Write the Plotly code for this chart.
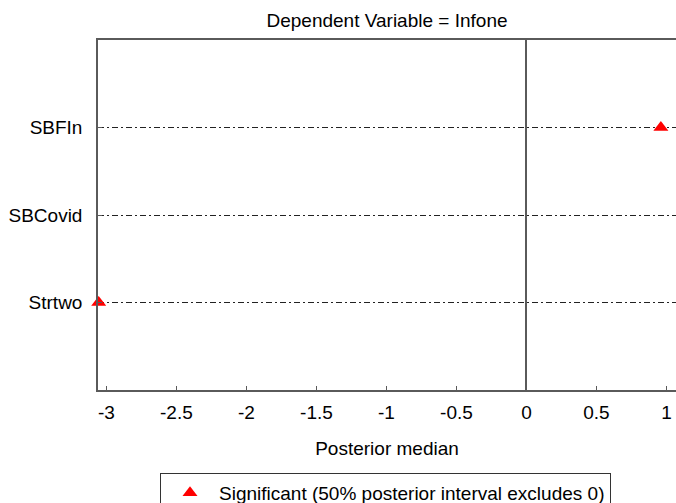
import plotly.graph_objects as go

# Predictors shown on the y axis (top to bottom)
variables = ["SBFIn", "SBCovid", "Strtwo"]

# Posterior medians of the predictors whose 50% interval excludes 0
sig_vars = ["SBFIn", "Strtwo"]
sig_medians = [0.96, -3.055]

x_ticks = [-3, -2.5, -2, -1.5, -1, -0.5, 0, 0.5, 1]
x_tick_text = ["-3", "-2.5", "-2", "-1.5", "-1", "-0.5", "0", "0.5", "1"]

FONT = "Liberation Sans, Arial, sans-serif"
AXIS_COL = "#5a5a5a"

fig = go.Figure()

fig.add_trace(go.Scatter(
    x=sig_medians,
    y=sig_vars,
    mode="markers",
    marker=dict(symbol="triangle-up", size=13, color="#ff0000", line=dict(width=0)),
    name="Significant (50% posterior interval excludes 0)",
    cliponaxis=False,
    showlegend=True,
))

fig.update_layout(
    width=676,
    height=503,
    margin=dict(l=98, r=0, t=40, b=113, autoexpand=False),
    paper_bgcolor="white",
    plot_bgcolor="white",
    font=dict(family=FONT, size=19, color="black"),
    title=dict(
        text="Dependent Variable = Infone",
        x=0.5, xref="paper", xanchor="center",
        y=1 - 20 / 503, yref="container", yanchor="middle",
        font=dict(family=FONT, size=19, color="black"),
    ),
    showlegend=True,
    legend=dict(
        x=(160 - 98) / 578, xref="paper", xanchor="left",
        y=1 - 473 / 503, yref="container", yanchor="top",
        bordercolor="#333333", borderwidth=1,
        bgcolor="white",
        itemwidth=48,
        font=dict(family=FONT, size=19, color="black"),
    ),
    xaxis=dict(
        range=[-3.06, 1.068],
        tickvals=x_ticks,
        ticktext=x_tick_text,
        ticks="inside",
        ticklen=4,
        tickcolor=AXIS_COL,
        showline=True,
        linecolor=AXIS_COL,
        linewidth=1.5,
        mirror=True,
        showgrid=False,
        zeroline=True,
        zerolinecolor=AXIS_COL,
        zerolinewidth=1.5,
        ticklabelstandoff=4,
        title=dict(text="Posterior median", standoff=20,
                   font=dict(family=FONT, size=19, color="black")),
        tickfont=dict(family=FONT, size=19, color="black"),
    ),
    yaxis=dict(
        type="category",
        categoryorder="array",
        categoryarray=variables[::-1],
        range=[-1, 3],
        ticks="inside",
        ticklen=4,
        tickcolor=AXIS_COL,
        showline=True,
        linecolor=AXIS_COL,
        linewidth=1.5,
        mirror=False,
        showgrid=True,
        gridcolor="#222222",
        gridwidth=1,
        griddash="6px,3px,2px,3px",
        zeroline=False,
        ticklabelstandoff=10,
        tickfont=dict(family=FONT, size=19, color="black"),
    ),
)

fig.write_html("out.html")
